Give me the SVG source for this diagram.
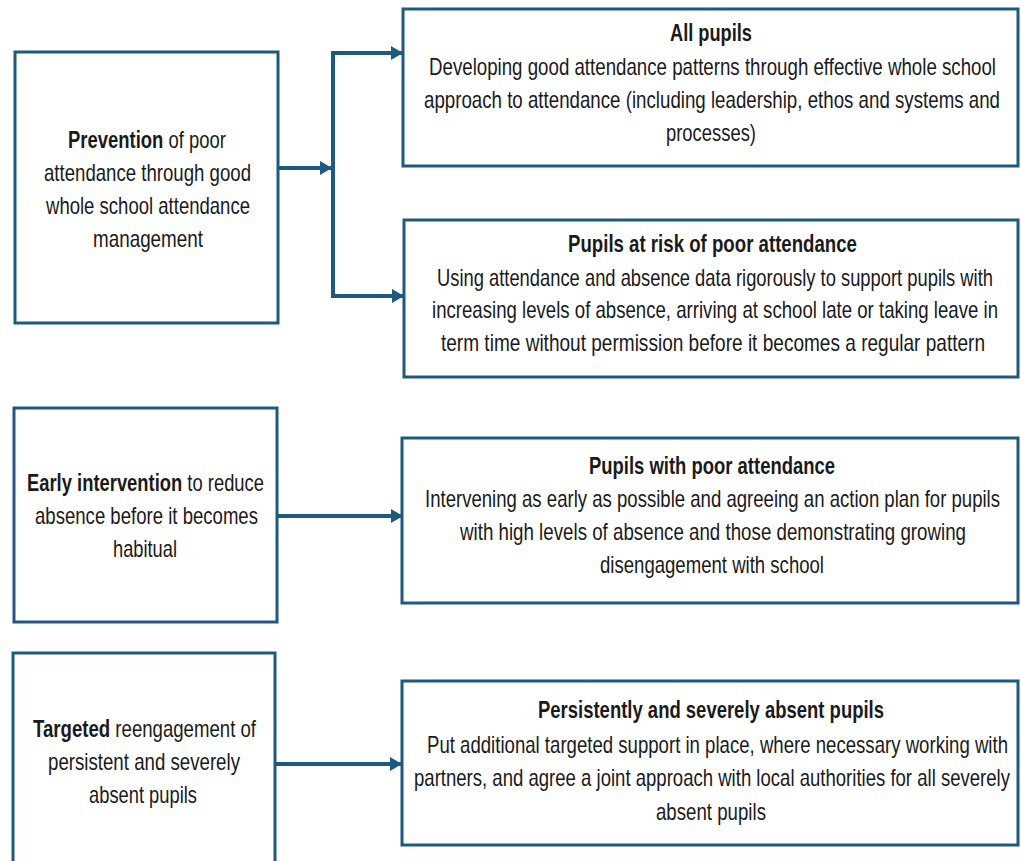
<svg xmlns="http://www.w3.org/2000/svg" width="1021" height="861" viewBox="0 0 1021 861">
<style>
.box{fill:#ffffff;stroke:#1e5a7f;stroke-width:3}
.con{fill:none;stroke:#1e5a7f;stroke-width:4}
text{font-family:"Liberation Sans",Arial,sans-serif;font-size:23px;fill:#1a1a1a}
.b{font-weight:bold}
</style>
<defs>
<marker id="ah" markerUnits="userSpaceOnUse" markerWidth="12" markerHeight="14" refX="11" refY="7" orient="auto">
<path d="M0,0 L12,7 L0,14 z" fill="#1e5a7f"/>
</marker>
</defs>
<rect width="1021" height="861" fill="#ffffff"/>
<g id="connectors">
<path class="con" d="M278,168 H331" marker-end="url(#ah)"/>
<path class="con" d="M333,296 V53"/>
<path class="con" d="M331,53 H402" marker-end="url(#ah)"/>
<path class="con" d="M331,296 H403" marker-end="url(#ah)"/>
<path class="con" d="M277,516 H402" marker-end="url(#ah)"/>
<path class="con" d="M276,764 H401" marker-end="url(#ah)"/>
</g>
<g id="prevention">
<rect class="box" x="15" y="52" width="263" height="271"/>
<g transform="scale(0.8,1)">
<text x="85" y="148" textLength="197.5" lengthAdjust="spacingAndGlyphs"><tspan class="b">Prevention</tspan> of poor</text>
<text x="55" y="181" textLength="258.75" lengthAdjust="spacingAndGlyphs">attendance through good</text>
<text x="57.5" y="214" textLength="255" lengthAdjust="spacingAndGlyphs">whole school attendance</text>
<text x="116.25" y="247" textLength="137.5" lengthAdjust="spacingAndGlyphs">management</text>
</g>
</g>
<g id="early">
<rect class="box" x="14" y="408" width="263" height="214"/>
<g transform="scale(0.8,1)">
<text x="33.75" y="491" textLength="296.25" lengthAdjust="spacingAndGlyphs"><tspan class="b">Early intervention</tspan> to reduce</text>
<text x="43.75" y="524" textLength="278.75" lengthAdjust="spacingAndGlyphs">absence before it becomes</text>
<text x="141.25" y="557" textLength="80" lengthAdjust="spacingAndGlyphs">habitual</text>
</g>
</g>
<g id="targeted">
<rect class="box" x="13" y="653" width="262" height="230"/>
<g transform="scale(0.8,1)">
<text x="41.25" y="737" textLength="278.75" lengthAdjust="spacingAndGlyphs"><tspan class="b">Targeted</tspan> reengagement of</text>
<text x="60" y="770" textLength="240" lengthAdjust="spacingAndGlyphs">persistent and severely</text>
<text x="111.25" y="803" textLength="135" lengthAdjust="spacingAndGlyphs">absent pupils</text>
</g>
</g>
<g id="all-pupils">
<rect class="box" x="403" y="9" width="615" height="157"/>
<g transform="scale(0.8,1)">
<text x="837.5" y="41" class="b" textLength="102.5" lengthAdjust="spacingAndGlyphs">All pupils</text>
<text x="536.25" y="75" textLength="708.75" lengthAdjust="spacingAndGlyphs">Developing good attendance patterns through effective whole school</text>
<text x="530" y="108" textLength="720" lengthAdjust="spacingAndGlyphs">approach to attendance (including leadership, ethos and systems and</text>
<text x="832.5" y="141" textLength="112.5" lengthAdjust="spacingAndGlyphs">processes)</text>
</g>
</g>
<g id="at-risk">
<rect class="box" x="404" y="220" width="614" height="157"/>
<g transform="scale(0.8,1)">
<text x="710" y="252" class="b" textLength="361.25" lengthAdjust="spacingAndGlyphs">Pupils at risk of poor attendance</text>
<text x="546.25" y="286" textLength="695" lengthAdjust="spacingAndGlyphs">Using attendance and absence data rigorously to support pupils with</text>
<text x="540" y="318" textLength="707.5" lengthAdjust="spacingAndGlyphs">increasing levels of absence, arriving at school late or taking leave in</text>
<text x="551.25" y="351" textLength="680" lengthAdjust="spacingAndGlyphs">term time without permission before it becomes a regular pattern</text>
</g>
</g>
<g id="poor-attendance">
<rect class="box" x="402" y="438" width="616" height="165"/>
<g transform="scale(0.8,1)">
<text x="736.25" y="474" class="b" textLength="307.5" lengthAdjust="spacingAndGlyphs">Pupils with poor attendance</text>
<text x="531.25" y="507" textLength="718.75" lengthAdjust="spacingAndGlyphs">Intervening as early as possible and agreeing an action plan for pupils</text>
<text x="575" y="540" textLength="632.5" lengthAdjust="spacingAndGlyphs">with high levels of absence and those demonstrating growing</text>
<text x="750" y="573" textLength="280" lengthAdjust="spacingAndGlyphs">disengagement with school</text>
</g>
</g>
<g id="persistent">
<rect class="box" x="402" y="681" width="616" height="164"/>
<g transform="scale(0.8,1)">
<text x="672.5" y="718" class="b" textLength="432.5" lengthAdjust="spacingAndGlyphs">Persistently and severely absent pupils</text>
<text x="533.75" y="753" textLength="726.25" lengthAdjust="spacingAndGlyphs">Put additional targeted support in place, where necessary working with</text>
<text x="517.5" y="786" textLength="745" lengthAdjust="spacingAndGlyphs">partners, and agree a joint approach with local authorities for all severely</text>
<text x="820" y="820" textLength="137.5" lengthAdjust="spacingAndGlyphs">absent pupils</text>
</g>
</g>
</svg>
